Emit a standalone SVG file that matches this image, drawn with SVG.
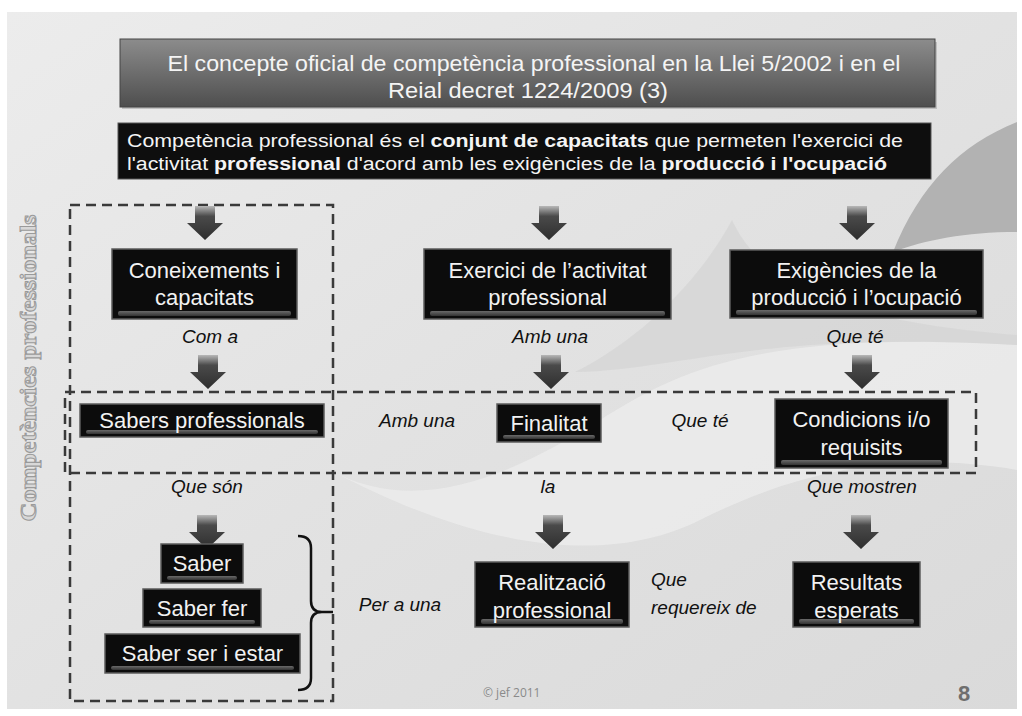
<svg xmlns="http://www.w3.org/2000/svg" width="1022" height="716" viewBox="0 0 1022 716">
  <defs>
    <linearGradient id="bg" x1="0" y1="0" x2="1" y2="1">
      <stop offset="0" stop-color="#ececec"/>
      <stop offset="0.5" stop-color="#e2e2e2"/>
      <stop offset="1" stop-color="#dadada"/>
    </linearGradient>
    <linearGradient id="titleGrad" x1="0" y1="0" x2="0" y2="1">
      <stop offset="0" stop-color="#8c8c8c"/>
      <stop offset="1" stop-color="#4e4e4e"/>
    </linearGradient>
    <linearGradient id="arrGrad" x1="0" y1="0" x2="0" y2="1">
      <stop offset="0" stop-color="#b8b8b8"/>
      <stop offset="0.3" stop-color="#4a4a4a"/>
      <stop offset="1" stop-color="#2e2e2e"/>
    </linearGradient>
    <linearGradient id="bevel" x1="0" y1="0" x2="0" y2="1">
      <stop offset="0" stop-color="#6a6a6a"/>
      <stop offset="1" stop-color="#333333"/>
    </linearGradient>
    <path id="arr" d="M-10,0 H10 V17 H18 L0,34 L-18,17 H-10 Z"/>
    <style>
      .box { fill: #0c0c0c; stroke: #5c5c5c; stroke-width: 1.5; }
      .bev { fill: url(#bevel); }
      .bt { font-family: "Liberation Sans", Arial, sans-serif; font-size: 22px; fill: #f2f2f2; text-anchor: middle; }
      .lbl { font-family: "Liberation Sans", Arial, sans-serif; font-style: italic; font-size: 19px; fill: #111; text-anchor: middle; }
      .lbl-l { font-family: "Liberation Sans", Arial, sans-serif; font-style: italic; font-size: 19px; fill: #111; text-anchor: start; }
      .dash { fill: none; stroke: #3a3a3a; stroke-width: 2.5; stroke-dasharray: 10 6; }
      .arrow { fill: url(#arrGrad); }
    </style>
  </defs>

  <!-- slide background -->
  <rect x="0" y="0" width="1022" height="716" fill="#ffffff"/>
  <rect x="7" y="12" width="1010" height="697" fill="url(#bg)"/>
  <path d="M330,470 C420,520 520,470 600,420 C680,370 760,330 1017,345 L1017,470 C900,450 800,470 700,520 C620,560 500,560 330,470 Z" fill="#eeeeee" opacity="0.7"/>
  <path d="M575,372 C640,340 700,280 732,220 C760,280 830,320 1017,335 L1017,345 C760,330 680,370 575,372 Z" fill="#d2d2d2" opacity="0.6"/>
  <path d="M893,252 C920,185 960,145 1017,122 L1017,232 C965,232 925,240 893,252 Z" fill="#b2b2b2"/>

  <!-- title -->
  <g id="title">
    <rect x="122" y="42" width="815" height="67" fill="#9a9a9a" opacity="0.5"/>
    <rect x="120" y="39" width="815" height="68" fill="url(#titleGrad)" stroke="#444" stroke-width="1"/>
    <text x="534" y="71" font-family="Liberation Sans, Arial, sans-serif" font-size="22" fill="#f4f4f4" text-anchor="middle" textLength="733" lengthAdjust="spacingAndGlyphs">El concepte oficial de competència professional en la Llei 5/2002 i en el</text>
    <text x="528" y="98" font-family="Liberation Sans, Arial, sans-serif" font-size="22" fill="#f4f4f4" text-anchor="middle" textLength="280" lengthAdjust="spacingAndGlyphs">Reial decret 1224/2009 (3)</text>
  </g>

  <!-- definition -->
  <g id="definition">
    <rect x="118" y="123" width="813" height="56" fill="#0e0e0e" stroke="#555" stroke-width="1"/>
    <text x="127" y="147" font-family="Liberation Sans, Arial, sans-serif" font-size="18" fill="#f4f4f4" textLength="776" lengthAdjust="spacingAndGlyphs">Competència professional és el <tspan font-weight="bold">conjunt de capacitats</tspan> que permeten l'exercici de</text>
    <text x="127" y="170" font-family="Liberation Sans, Arial, sans-serif" font-size="18" fill="#f4f4f4" textLength="760" lengthAdjust="spacingAndGlyphs">l'activitat <tspan font-weight="bold">professional</tspan> d'acord amb les exigències de la <tspan font-weight="bold">producció i  l'ocupació</tspan></text>
  </g>

  <!-- side label -->
  <g id="side-label">
    <text transform="translate(36,368) rotate(-90)" font-family="Liberation Serif, serif" font-weight="bold" font-size="24" fill="#d8d8d8" stroke="#9a9a9a" stroke-width="1" text-anchor="middle" textLength="307" lengthAdjust="spacingAndGlyphs">Competències professionals</text>
  </g>

  <!-- dashed groupings -->
  <g id="groupings">
    <rect class="dash" x="70" y="205" width="263" height="496"/>
    <rect class="dash" x="65" y="392" width="911" height="81"/>
  </g>

  <!-- connectors -->
  <g id="connectors">
    <use href="#arr" class="arrow" transform="translate(205,206)"/>
    <use href="#arr" class="arrow" transform="translate(549,206)"/>
    <use href="#arr" class="arrow" transform="translate(857,206)"/>
    <use href="#arr" class="arrow" transform="translate(208,355)"/>
    <use href="#arr" class="arrow" transform="translate(551,355)"/>
    <use href="#arr" class="arrow" transform="translate(862,355)"/>
    <use href="#arr" class="arrow" transform="translate(207,515)"/>
    <use href="#arr" class="arrow" transform="translate(553,515)"/>
    <use href="#arr" class="arrow" transform="translate(861,515)"/>
    <path d="M298,536 Q311,536 311,548 V601 Q311,612 322,612 H333 M322,612 Q311,612 311,623 V678 Q311,690 298,690" fill="none" stroke="#111" stroke-width="2.5"/>
  </g>

  <!-- nodes -->
  <g id="n-coneixements">
    <rect class="box" x="112" y="249" width="185" height="70"/>
    <rect class="bev" x="118" y="311" width="173" height="5" rx="2"/>
    <text class="bt" x="204.5" y="278">Coneixements i</text>
    <text class="bt" x="204.5" y="305">capacitats</text>
  </g>
  <g id="n-exercici">
    <rect class="box" x="424" y="249" width="247" height="70"/>
    <rect class="bev" x="430" y="311" width="235" height="5" rx="2"/>
    <text class="bt" x="547.5" y="278">Exercici de l’activitat</text>
    <text class="bt" x="547.5" y="305">professional</text>
  </g>
  <g id="n-exigencies">
    <rect class="box" x="730" y="250" width="253" height="68"/>
    <rect class="bev" x="736" y="310" width="241" height="5" rx="2"/>
    <text class="bt" x="856.5" y="278">Exigències de la</text>
    <text class="bt" x="856.5" y="305">producció i l’ocupació</text>
  </g>
  <g id="n-sabers">
    <rect class="box" x="80" y="404" width="244" height="33"/>
    <rect class="bev" x="86" y="430" width="232" height="4" rx="2"/>
    <text class="bt" x="202" y="428">Sabers professionals</text>
  </g>
  <g id="n-finalitat">
    <rect class="box" x="497" y="404" width="104" height="38"/>
    <rect class="bev" x="503" y="435" width="92" height="4" rx="2"/>
    <text class="bt" x="549" y="431">Finalitat</text>
  </g>
  <g id="n-condicions">
    <rect class="box" x="775" y="399" width="173" height="69"/>
    <rect class="bev" x="781" y="460" width="161" height="5" rx="2"/>
    <text class="bt" x="861.5" y="427">Condicions i/o</text>
    <text class="bt" x="861.5" y="455">requisits</text>
  </g>
  <g id="n-saber">
    <rect class="box" x="161" y="544" width="82" height="39"/>
    <rect class="bev" x="167" y="576" width="70" height="4" rx="2"/>
    <text class="bt" x="202" y="571">Saber</text>
  </g>
  <g id="n-saberfer">
    <rect class="box" x="143" y="589" width="118" height="38"/>
    <rect class="bev" x="149" y="620" width="106" height="4" rx="2"/>
    <text class="bt" x="202" y="616">Saber fer</text>
  </g>
  <g id="n-saberser">
    <rect class="box" x="105" y="634" width="195" height="39"/>
    <rect class="bev" x="111" y="666" width="183" height="4" rx="2"/>
    <text class="bt" x="202.5" y="661">Saber ser i estar</text>
  </g>
  <g id="n-realitzacio">
    <rect class="box" x="475" y="562" width="154" height="65"/>
    <rect class="bev" x="481" y="619" width="142" height="5" rx="2"/>
    <text class="bt" x="552" y="590">Realització</text>
    <text class="bt" x="552" y="618">professional</text>
  </g>
  <g id="n-resultats">
    <rect class="box" x="793" y="562" width="127" height="65"/>
    <rect class="bev" x="799" y="619" width="115" height="5" rx="2"/>
    <text class="bt" x="856.5" y="590">Resultats</text>
    <text class="bt" x="856.5" y="618">esperats</text>
  </g>

  <!-- labels -->
  <g id="labels">
    <text class="lbl" x="210" y="343">Com a</text>
    <text class="lbl" x="550" y="343">Amb una</text>
    <text class="lbl" x="855" y="343">Que té</text>
    <text class="lbl" x="417" y="427">Amb una</text>
    <text class="lbl" x="700" y="427">Que té</text>
    <text class="lbl" x="207" y="493">Que són</text>
    <text class="lbl" x="548" y="493">la</text>
    <text class="lbl" x="862" y="493">Que mostren</text>
    <text class="lbl" x="400" y="611">Per a una</text>
    <text class="lbl-l" x="651" y="586">Que</text>
    <text class="lbl-l" x="651" y="614">requereix de</text>
  </g>

  <!-- footer -->
  <g id="footer">
    <text x="483" y="697" font-family="Open Sans, Liberation Sans, sans-serif" font-size="12" fill="#8a8a8a">© jef 2011</text>
    <text x="964" y="701" font-family="Liberation Sans, Arial, sans-serif" font-weight="bold" font-size="22" fill="#6e6e6e" text-anchor="middle">8</text>
  </g>
</svg>
